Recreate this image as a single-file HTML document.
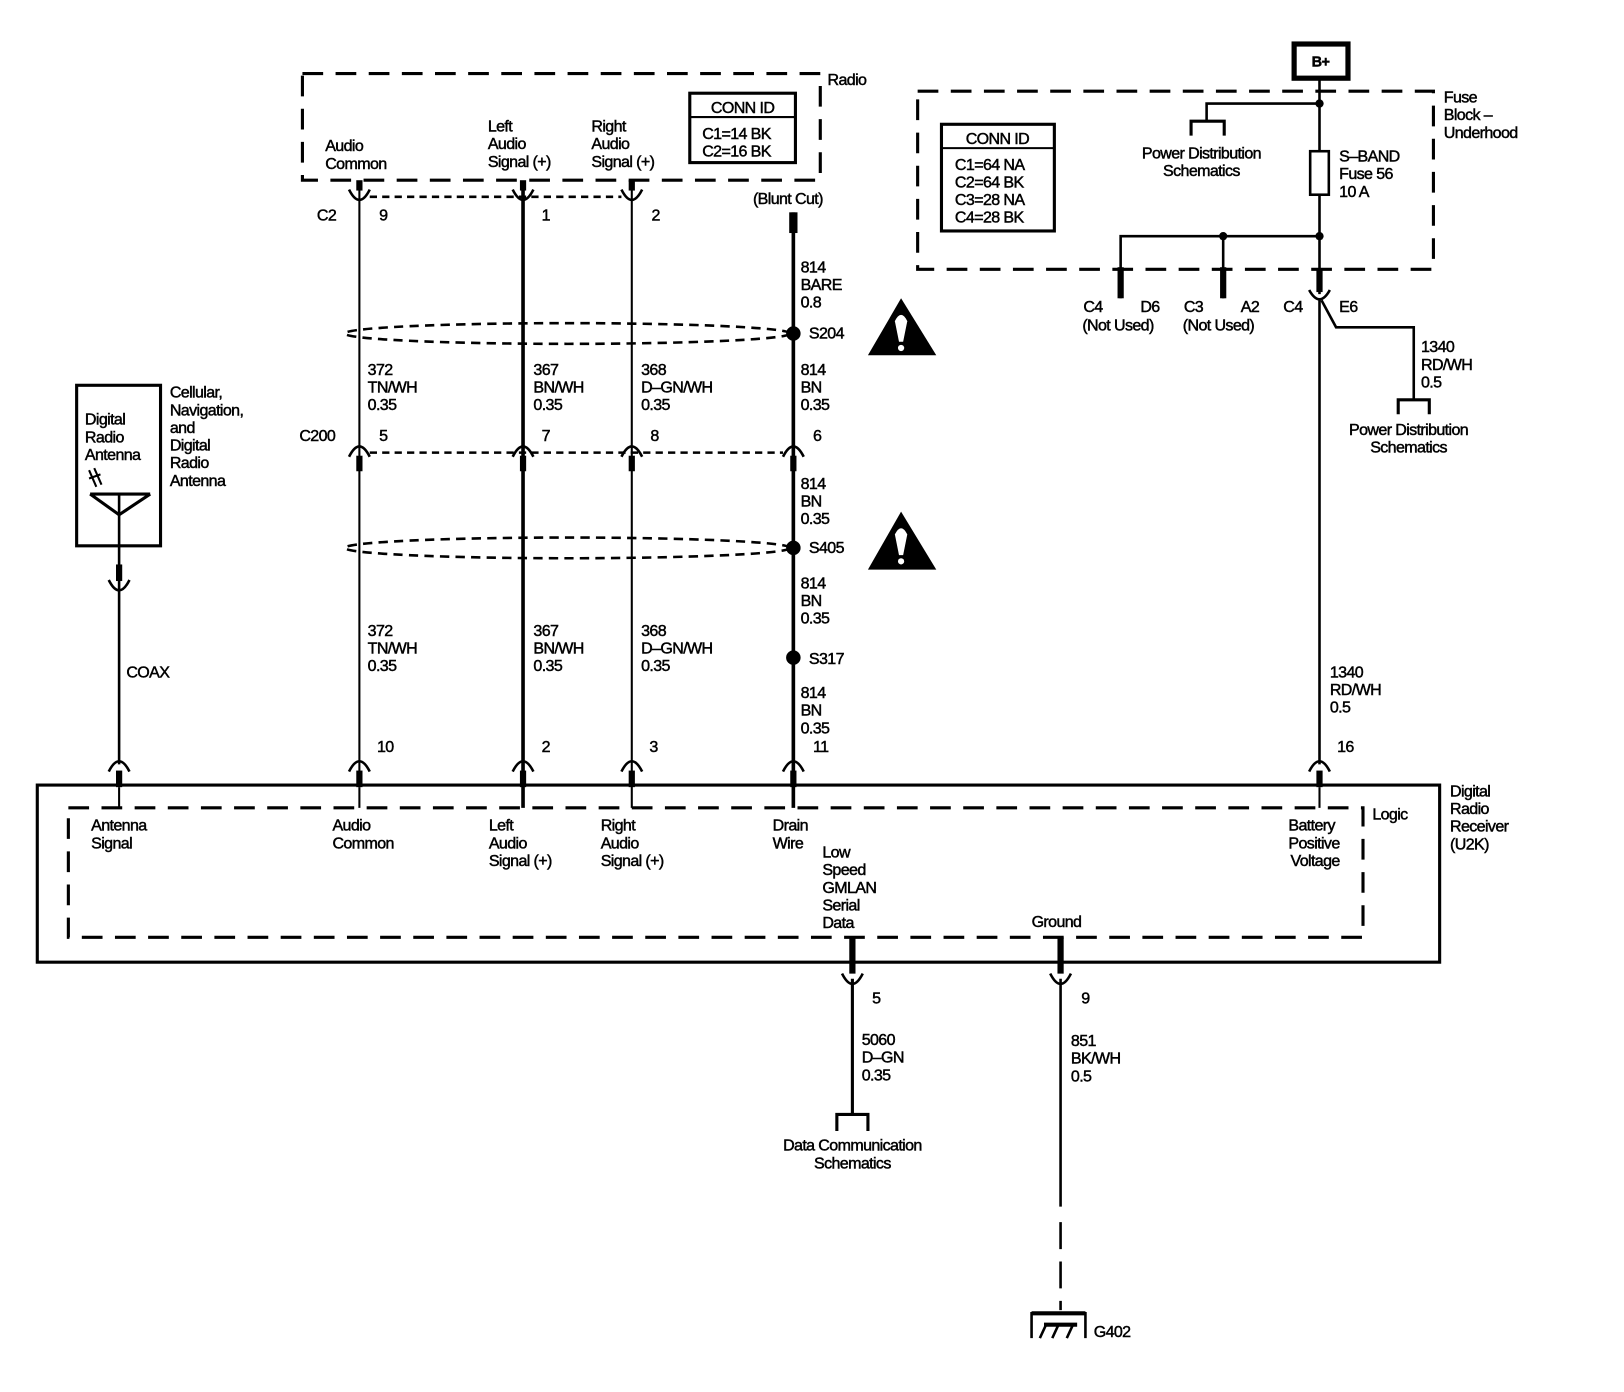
<!DOCTYPE html>
<html><head><meta charset="utf-8"><style>
html,body{margin:0;padding:0;background:#fff;}
svg{display:block;}
text{font-family:"Liberation Sans",Arial,sans-serif;font-size:15.5px;fill:#000;stroke:#000;stroke-width:0.45px;letter-spacing:-0.6px;}
</style></head><body>
<svg width="1624" height="1392" viewBox="0 0 1568 1344" preserveAspectRatio="none" xmlns="http://www.w3.org/2000/svg">
<g fill="none" stroke="#000">
<rect x="292" y="71" width="500" height="103" stroke-width="3" stroke-dasharray="20 12"/>
<rect x="666" y="90" width="102" height="67" stroke-width="3"/>
<line x1="666" y1="113" x2="768" y2="113" stroke-width="2"/>
<line x1="347" y1="183" x2="347" y2="760" stroke-width="2"/>
<line x1="505" y1="183" x2="505" y2="780" stroke-width="3.5"/>
<line x1="610" y1="183" x2="610" y2="780" stroke-width="2"/>
<line x1="766" y1="205" x2="766" y2="780" stroke-width="3.5"/>
<g stroke-width="6"><line x1="347" y1="174" x2="347" y2="184"/><line x1="505" y1="174" x2="505" y2="184"/><line x1="610" y1="174" x2="610" y2="184"/></g>
<g stroke-width="2.5">
<path d="M337,183 Q347,203 357,183"/><path d="M495,183 Q505,203 515,183"/><path d="M600,183 Q610,203 620,183"/>
</g>
<line x1="357" y1="190" x2="600" y2="190" stroke-width="2.5" stroke-dasharray="7 5"/>
<rect x="762" y="205" width="8" height="20" fill="#000" stroke="none"/>
<ellipse cx="548" cy="322" rx="215" ry="10" stroke-width="2.5" stroke-dasharray="9 6"/>
<ellipse cx="548" cy="529" rx="215" ry="10" stroke-width="2.5" stroke-dasharray="9 6"/>
<g stroke-width="2.5">
<path d="M337,441 Q347,421 357,441"/><path d="M495,441 Q505,421 515,441"/><path d="M600,441 Q610,421 620,441"/><path d="M756,441 Q766,421 776,441"/>
</g>
<g stroke-width="6"><line x1="347" y1="440" x2="347" y2="455"/><line x1="505" y1="440" x2="505" y2="455"/><line x1="610" y1="440" x2="610" y2="455"/><line x1="766" y1="440" x2="766" y2="455"/></g>
<line x1="357" y1="437" x2="756" y2="437" stroke-width="2.5" stroke-dasharray="7 5"/>
<g stroke-width="2.5">
<path d="M105,745 Q115,725 125,745"/><path d="M337,745 Q347,725 357,745"/><path d="M495,745 Q505,725 515,745"/><path d="M600,745 Q610,725 620,745"/><path d="M756,745 Q766,725 776,745"/><path d="M1264,745 Q1274,725 1284,745"/>
</g>
<g stroke-width="6"><line x1="115" y1="744" x2="115" y2="760"/><line x1="347" y1="744" x2="347" y2="760"/><line x1="505" y1="744" x2="505" y2="760"/><line x1="610" y1="744" x2="610" y2="760"/><line x1="766" y1="744" x2="766" y2="760"/><line x1="1274" y1="744" x2="1274" y2="760"/></g>
<g stroke-width="2"><line x1="115" y1="760" x2="115" y2="780"/><line x1="347" y1="760" x2="347" y2="780"/><line x1="1274" y1="760" x2="1274" y2="780"/></g>
<rect x="36" y="758" width="1354" height="171" stroke-width="3"/>
<rect x="66" y="780" width="1250" height="125" stroke-width="3" stroke-dasharray="20 12"/>
<rect x="74" y="372" width="81" height="155" stroke-width="3"/>
<line x1="115" y1="477" x2="115" y2="738" stroke-width="2.5"/>
<path d="M87,477 L145,477 M87,477 L115,497 L145,477" stroke-width="3"/>
<path d="M86,454 L93,470 M91,452 L98,468 M86,462 L97,458" stroke-width="2"/>
<line x1="115" y1="545" x2="115" y2="561" stroke-width="6"/>
<path d="M105,560 Q115,580 125,560" stroke-width="2.5"/>
<line x1="823" y1="905" x2="823" y2="940" stroke-width="6"/>
<path d="M813,940 Q823,960 833,940" stroke-width="2.5"/>
<line x1="823" y1="945" x2="823" y2="1076" stroke-width="3"/>
<path d="M808,1092 L808,1076 L838,1076 L838,1092" stroke-width="3"/>
<line x1="1024" y1="905" x2="1024" y2="940" stroke-width="6"/>
<path d="M1014,940 Q1024,960 1034,940" stroke-width="2.5"/>
<line x1="1024" y1="945" x2="1024" y2="1165" stroke-width="2.5"/>
<line x1="1024" y1="1180" x2="1024" y2="1265" stroke-width="2.5" stroke-dasharray="26 12"/>
<path d="M996,1292 L996,1268 L1048,1268 L1048,1292" stroke-width="2.5"/>
<line x1="996" y1="1268" x2="1048" y2="1268" stroke-width="4"/>
<line x1="1008" y1="1279" x2="1040" y2="1279" stroke-width="4"/>
<path d="M1010,1279 L1004,1292 M1022,1279 L1016,1292 M1036,1279 L1030,1292" stroke-width="2.5"/>
<rect x="1249.5" y="42.5" width="52" height="33" stroke-width="5"/>
<rect x="886" y="88" width="498" height="172" stroke-width="3" stroke-dasharray="20 12"/>
<line x1="1274" y1="77" x2="1274" y2="284" stroke-width="2.5"/>
<path d="M1274,100 L1165,100 L1165,117" stroke-width="2.5"/>
<path d="M1150,131 L1150,117 L1182,117 L1182,131" stroke-width="3"/>
<rect x="1265" y="146" width="18" height="42" stroke-width="2.5" fill="#fff"/>
<path d="M1082,288 L1082,228 L1274,228" stroke-width="2.5"/>
<line x1="1181" y1="228" x2="1181" y2="288" stroke-width="2.5"/>
<line x1="1082" y1="258" x2="1082" y2="288" stroke-width="6"/>
<line x1="1181" y1="258" x2="1181" y2="288" stroke-width="6"/>
<line x1="1274" y1="260" x2="1274" y2="282" stroke-width="6"/>
<path d="M1264,280 Q1274,298 1284,280" stroke-width="2.5"/>
<line x1="1274" y1="290" x2="1274" y2="738" stroke-width="2.5"/>
<path d="M1276,290 L1290,316 L1365,316 L1365,386" stroke-width="2.5"/>
<path d="M1350,400 L1350,386 L1380,386 L1380,400" stroke-width="3"/>
<rect x="909" y="120" width="109" height="103" stroke-width="3"/>
<line x1="909" y1="143" x2="1018" y2="143" stroke-width="2"/>
</g>
<g fill="#000">
<circle cx="766" cy="322" r="7"/><circle cx="766" cy="529" r="7"/><circle cx="766" cy="635" r="7"/>
<circle cx="1274" cy="100" r="4"/><circle cx="1274" cy="228" r="4"/><circle cx="1181" cy="228" r="4"/>
<polygon points="870,288 838,343 904,343"/><polygon points="870,494 838,550 904,550"/>
</g>
<g fill="#fff">
<path d="M864,310 Q870,298 876,310 L872,330 L868,330 Z"/><circle cx="870" cy="336" r="3"/>
<path d="M864,516 Q870,504 876,516 L872,536 L868,536 Z"/><circle cx="870" cy="542" r="3"/>
</g>
<text x="799" y="82">Radio</text>
<text x="314" y="146">Audio</text><text x="314" y="163">Common</text>
<text x="471" y="127">Left</text><text x="471" y="144">Audio</text><text x="471" y="161">Signal (+)</text>
<text x="571" y="127">Right</text><text x="571" y="144">Audio</text><text x="571" y="161">Signal (+)</text>
<text x="717" y="109" text-anchor="middle">CONN ID</text>
<text x="678" y="134">C1=14 BK</text><text x="678" y="151">C2=16 BK</text>
<text x="306" y="213">C2</text><text x="366" y="213">9</text><text x="523" y="213">1</text><text x="629" y="213">2</text>
<text x="727" y="197">(Blunt Cut)</text>
<text x="773" y="263">814</text><text x="773" y="280">BARE</text><text x="773" y="297">0.8</text>
<text x="781" y="327">S204</text>
<text x="355" y="362">372</text><text x="355" y="379">TN/WH</text><text x="355" y="396">0.35</text>
<text x="515" y="362">367</text><text x="515" y="379">BN/WH</text><text x="515" y="396">0.35</text>
<text x="619" y="362">368</text><text x="619" y="379">D–GN/WH</text><text x="619" y="396">0.35</text>
<text x="773" y="362">814</text><text x="773" y="379">BN</text><text x="773" y="396">0.35</text>
<text x="289" y="426">C200</text><text x="366" y="426">5</text><text x="523" y="426">7</text><text x="628" y="426">8</text><text x="785" y="426">6</text>
<text x="773" y="472">814</text><text x="773" y="489">BN</text><text x="773" y="506">0.35</text>
<text x="781" y="534">S405</text>
<text x="773" y="568">814</text><text x="773" y="585">BN</text><text x="773" y="602">0.35</text>
<text x="781" y="641">S317</text>
<text x="773" y="674">814</text><text x="773" y="691">BN</text><text x="773" y="708">0.35</text>
<text x="355" y="614">372</text><text x="355" y="631">TN/WH</text><text x="355" y="648">0.35</text>
<text x="515" y="614">367</text><text x="515" y="631">BN/WH</text><text x="515" y="648">0.35</text>
<text x="619" y="614">368</text><text x="619" y="631">D–GN/WH</text><text x="619" y="648">0.35</text>
<text x="364" y="726">10</text><text x="523" y="726">2</text><text x="627" y="726">3</text><text x="785" y="726">11</text><text x="1291" y="726">16</text>
<text x="82" y="410">Digital</text><text x="82" y="427">Radio</text><text x="82" y="444">Antenna</text>
<text x="164" y="384">Cellular,</text><text x="164" y="401">Navigation,</text><text x="164" y="418">and</text><text x="164" y="435">Digital</text><text x="164" y="452">Radio</text><text x="164" y="469">Antenna</text>
<text x="122" y="654">COAX</text>
<text x="88" y="802">Antenna</text><text x="88" y="819">Signal</text>
<text x="321" y="802">Audio</text><text x="321" y="819">Common</text>
<text x="472" y="802">Left</text><text x="472" y="819">Audio</text><text x="472" y="836">Signal (+)</text>
<text x="580" y="802">Right</text><text x="580" y="819">Audio</text><text x="580" y="836">Signal (+)</text>
<text x="746" y="802">Drain</text><text x="746" y="819">Wire</text>
<text x="794" y="828">Low</text><text x="794" y="845">Speed</text><text x="794" y="862">GMLAN</text><text x="794" y="879">Serial</text><text x="794" y="896">Data</text>
<text x="996" y="895">Ground</text>
<text x="1244" y="802">Battery</text><text x="1244" y="819">Positive</text><text x="1246" y="836">Voltage</text>
<text x="1325" y="791">Logic</text>
<text x="1400" y="769">Digital</text><text x="1400" y="786">Radio</text><text x="1400" y="803">Receiver</text><text x="1400" y="820">(U2K)</text>
<text x="842" y="969">5</text>
<text x="832" y="1009">5060</text><text x="832" y="1026">D–GN</text><text x="832" y="1043">0.35</text>
<text x="823" y="1111" text-anchor="middle">Data Communication</text><text x="823" y="1128" text-anchor="middle">Schematics</text>
<text x="1044" y="969">9</text>
<text x="1034" y="1010">851</text><text x="1034" y="1027">BK/WH</text><text x="1034" y="1044">0.5</text>
<text x="1056" y="1291">G402</text>
<text x="1275" y="64" text-anchor="middle" style="font-weight:bold;font-size:14px">B+</text>
<text x="1394" y="99">Fuse</text><text x="1394" y="116">Block –</text><text x="1394" y="133">Underhood</text>
<text x="1160" y="153" text-anchor="middle">Power Distribution</text><text x="1160" y="170" text-anchor="middle">Schematics</text>
<text x="1293" y="156">S–BAND</text><text x="1293" y="173">Fuse 56</text><text x="1293" y="190">10 A</text>
<text x="963" y="139" text-anchor="middle">CONN ID</text>
<text x="922" y="164">C1=64 NA</text><text x="922" y="181">C2=64 BK</text><text x="922" y="198">C3=28 NA</text><text x="922" y="215">C4=28 BK</text>
<text x="1046" y="301">C4</text><text x="1101" y="301">D6</text><text x="1045" y="319">(Not Used)</text>
<text x="1143" y="301">C3</text><text x="1198" y="301">A2</text><text x="1142" y="319">(Not Used)</text>
<text x="1239" y="301">C4</text><text x="1293" y="301">E6</text>
<text x="1372" y="340">1340</text><text x="1372" y="357">RD/WH</text><text x="1372" y="374">0.5</text>
<text x="1360" y="420" text-anchor="middle">Power Distribution</text><text x="1360" y="437" text-anchor="middle">Schematics</text>
<text x="1284" y="654">1340</text><text x="1284" y="671">RD/WH</text><text x="1284" y="688">0.5</text>
</svg>
</body></html>
